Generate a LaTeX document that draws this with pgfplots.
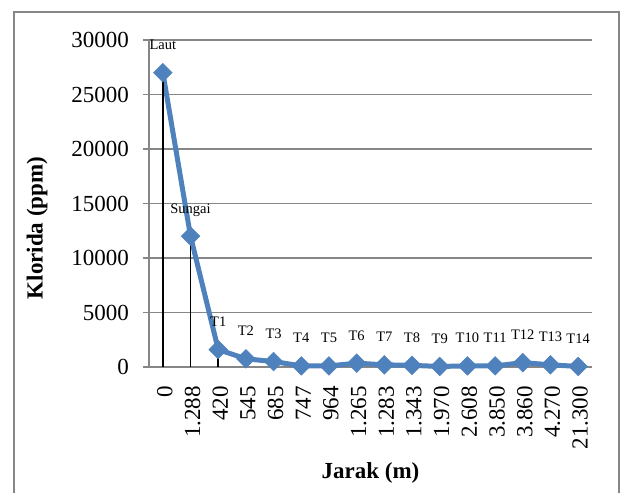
\documentclass[border=0pt]{standalone}
\usepackage{fontspec}
\setmainfont{Liberation Serif}
\usepackage{pgfplots}
\pgfplotsset{compat=1.18}
\usepackage{pgfplotstable}

\definecolor{xlblue}{HTML}{4F81BD}
\definecolor{gridgray}{HTML}{868686}

% klorida per titik sampel
\pgfplotstableread{
x  y      lab
0  27000  Laut
1  12000  Sungai
2  1600   T1
3  750    T2
4  500    T3
5  100    T4
6  100    T5
7  350    T6
8  200    T7
9  150    T8
10 50     T9
11 100    T10
12 100    T11
13 400    T12
14 200    T13
15 50     T14
}\klorida

\begin{document}
\begin{tikzpicture}
\begin{axis}[
  at={(149bp,126bp)}, anchor=south west,
  width=443bp, height=327bp, scale only axis,
  xmin=-0.5, xmax=15.5, ymin=0, ymax=30000,
  xtick={0,...,15},
  xticklabels={0,1.288,420,545,685,747,964,1.265,1.283,1.343,1.970,2.608,3.850,3.860,4.270,21.300},
  ytick={0,5000,...,30000},
  scaled y ticks=false,
  /pgf/number format/assume math mode=true,
  /pgf/number format/set thousands separator={},
  ymajorgrids,
  grid style={gridgray, line width=1.8bp},
  axis x line*=bottom, axis y line*=left,
  axis line style={gridgray, line width=1.8bp},
  tick align=outside, major tick length=6bp,
  ytick style={gridgray, line width=1.8bp},
  xtick style={draw=none},
  tick label style={font=\fontsize{23bp}{27bp}\selectfont},
  yticklabel style={anchor=east, inner sep=0pt, xshift=-14bp},
  xticklabel style={yshift=-13bp, xshift=2bp, rotate=90, anchor=east, inner sep=0pt},
  xlabel={Jarak (m)},
  ylabel={Klorida (ppm)},
  label style={font=\bfseries\fontsize{23bp}{27bp}\selectfont},
  xlabel style={at={(axis description cs:0.5,-0.3425)}, anchor=base},
  ylabel style={at={(axis description cs:-0.2528,0.425)}, anchor=center},
  clip=false,
]
\addplot[xlblue, line width=5bp, mark=square*, mark size=6.6bp,
  mark options={rotate=45, fill=xlblue, draw=xlblue, line width=0.5bp},
  nodes near coords, point meta=explicit symbolic,
  every node near coord/.append style={font=\fontsize{14.5bp}{17bp}\selectfont,
    black, anchor=base, yshift=23bp, inner sep=0pt}]
  table[x=x, y=y, meta=lab] {\klorida};
\addplot[ycomb, black, line width=1.5bp, no markers] table[x=x, y=y] {\klorida};
\end{axis}
\draw[gridgray, line width=2bp] (13.5bp,-10bp) -- (13.5bp,481bp) -- (618.5bp,481bp) -- (618.5bp,-10bp);
\pgfresetboundingbox
\useasboundingbox (0,0) rectangle (621bp,493bp);
\end{tikzpicture}
\end{document}
